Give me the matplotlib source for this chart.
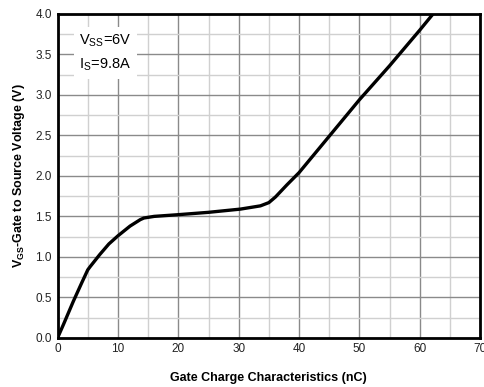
import matplotlib
matplotlib.use('Agg')
import matplotlib.pyplot as plt
from matplotlib.ticker import MultipleLocator

plt.rcParams['font.family'] = 'Liberation Sans'
plt.rcParams['mathtext.fontset'] = 'custom'
plt.rcParams['mathtext.rm'] = 'Liberation Sans'
plt.rcParams['mathtext.bf'] = 'Liberation Sans:bold'

# gate charge (nC) vs gate-source voltage (V)
charge = [0, 1, 2.6, 4, 5, 5.4, 7, 8.5, 10, 12, 13.7, 14.3, 16, 19.8, 25, 30.3, 33.6, 35, 36.1, 38, 40, 45, 50, 55, 60, 62.2]
vgs = [0, 0.17, 0.45, 0.68, 0.84, 0.88, 1.03, 1.16, 1.26, 1.38, 1.46, 1.48, 1.5, 1.52, 1.55, 1.59, 1.63, 1.67, 1.74, 1.89, 2.04, 2.49, 2.94, 3.36, 3.8, 4.0]

fig = plt.figure(figsize=(4.84, 3.87), dpi=100)
ax = fig.add_axes([0.119, 0.127, 0.873, 0.837])

ax.plot(charge, vgs, color='black', linewidth=2.4, zorder=3)

ax.set_xlim(0, 70)
ax.set_ylim(0, 4.0)
ax.xaxis.set_major_locator(MultipleLocator(10))
ax.xaxis.set_minor_locator(MultipleLocator(5))
ax.yaxis.set_major_locator(MultipleLocator(0.5))
ax.yaxis.set_minor_locator(MultipleLocator(0.25))
ax.yaxis.set_major_formatter(matplotlib.ticker.FormatStrFormatter('%.1f'))
ax.grid(True, which='major', color='#8a8a8a', linewidth=1.0)
ax.grid(True, which='minor', color='#d0d0d0', linewidth=1.0)
ax.tick_params(which='both', length=0, labelsize=8.5, colors='#222222', pad=4)

for s in ax.spines.values():
    s.set_linewidth(2)
    s.set_color('black')
    s.set_zorder(4)

ax.text(3.6, 3.52, 'V$_{\\mathrm{SS}}$=6V\nI$_{\\mathrm{S}}$=9.8A', fontsize=10.5, va='center', ha='left',
        linespacing=1.6, zorder=5,
        bbox=dict(facecolor='white', edgecolor='none', pad=4))

ax.set_xlabel('Gate Charge Characteristics (nC)', fontsize=9, fontweight='bold', labelpad=12)
ax.set_ylabel('V$_{\\mathbf{GS}}$-Gate to Source Voltage (V)', fontsize=9, fontweight='bold', labelpad=6)

fig.savefig('out.png', dpi=100)
